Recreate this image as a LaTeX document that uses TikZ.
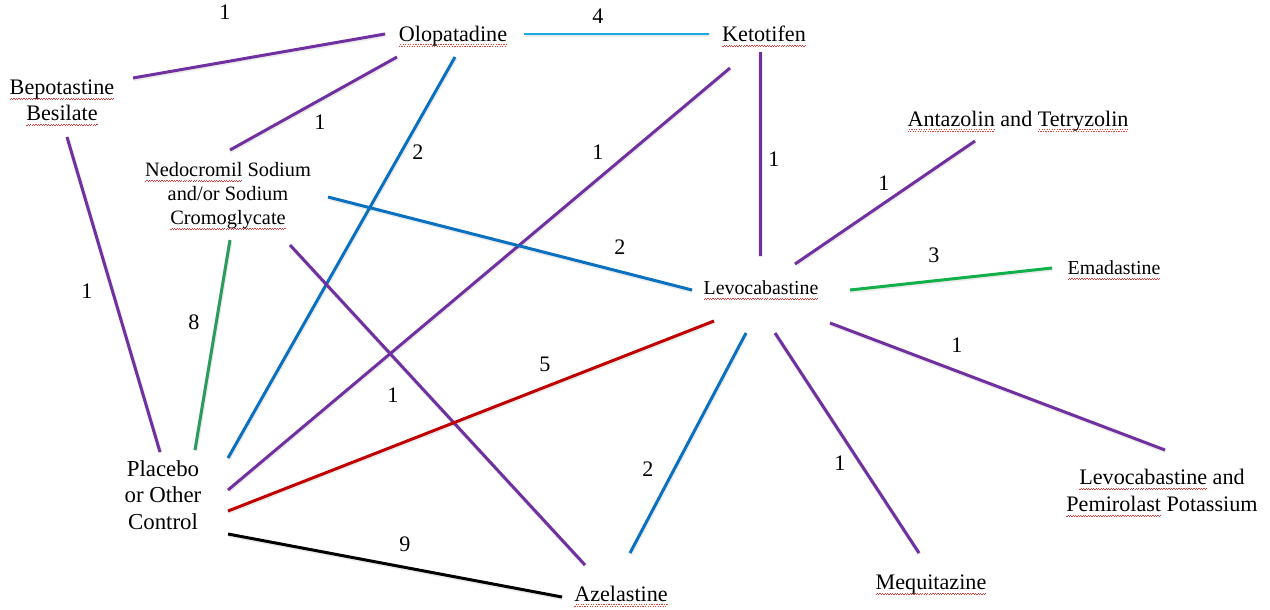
\documentclass[tikz,border=0pt]{standalone}
\usepackage{fontspec}
\setmainfont{Liberation Serif}
\newfontfamily\tnr{Liberation Serif}
\definecolor{cpurple}{HTML}{7030A0}
\definecolor{clblue}{HTML}{1BA9E3}
\definecolor{cdblue}{HTML}{0A70C0}
\definecolor{ctgreen}{HTML}{2E9A5E}
\definecolor{cbgreen}{HTML}{12B04A}
\definecolor{cdred}{HTML}{C00000}
\definecolor{cwave}{HTML}{E83A3A}
\newcommand\sq[1]{\setbox0\hbox{#1}\rlap{\textcolor{cwave}{\hbox to \wd0{\xleaders\hbox{\rule[-2.9pt]{0.7pt}{0.4pt}\rule[-2.3pt]{0.7pt}{0.4pt}}\hfill}}}\box0\relax}
\tikzset{
  drug/.style={inner sep=0pt, align=center, font=\tnr\fontsize{12.6}{15}\selectfont},
  drugsm/.style={inner sep=0pt, align=center, font=\tnr\fontsize{11.3}{13.6}\selectfont},
  num/.style={inner sep=0pt, font=\tnr\fontsize{12.6}{15}\selectfont},
  edge/.style={line width=1.7pt, line cap=butt,
    preaction={draw=black, opacity=0.08, line width=2.4pt, transform canvas={shift={(0.3pt,-0.6pt)}}}},
  purp/.style={edge, draw=cpurple},
  lblue/.style={edge, draw=clblue},
  dblue/.style={edge, draw=cdblue},
  tgreen/.style={edge, draw=ctgreen},
  bgreen/.style={edge, draw=cbgreen},
  dred/.style={edge, draw=cdred},
  blk/.style={edge, draw=black}
}
\begin{document}
\begin{tikzpicture}[x=0.02cm,y=-0.02cm]
\useasboundingbox (0,0) rectangle (1270,609);
% nodes
\node[drug] (olo) at (453,36) {\sq{Olopatadine}};
\node[drug] (ket) at (764,36) {\sq{Ketotifen}};
\node[drug] (bep) at (62,103) {\sq{Bepotastine}\\\sq{Besilate}};
\node[drugsm, font=\tnr\fontsize{11.6}{13.6}\selectfont] (ned) at (228,196) {\sq{Nedocromil} Sodium\\and/or Sodium\\\sq{Cromoglycate}};
\node[drug] (ant) at (1018,121) {\sq{Antazolin} and \sq{Tetryzolin}};
\node[drugsm] (lev) at (761,290) {\sq{Levocabastine}};
\node[drugsm] (ema) at (1114,270) {\sq{Emadastine}};
\node[drug, font=\tnr\fontsize{13}{15}\selectfont] (pla) at (163,495) {Placebo\\or Other\\Control};
\node[drug] (aze) at (621,596) {\sq{Azelastine}};
\node[drug] (meq) at (931,585) {\sq{Mequitazine}};
\node[drug] (lpp) at (1162,493) {\sq{Levocabastine} and\\\sq{Pemirolast} Potassium};
% connector ends
\coordinate (bep-olo) at (133,78);  \coordinate (olo-bep) at (385,34);
\coordinate (olo-ned) at (397,57);  \coordinate (ned-olo) at (230,150);
\coordinate (olo-ket) at (524,34);  \coordinate (ket-olo) at (709,34);
\coordinate (olo-pla) at (455,57);  \coordinate (pla-olo) at (228,458);
\coordinate (ket-pla) at (730,68);  \coordinate (pla-ket) at (228,490);
\coordinate (ket-lev) at (760,52);  \coordinate (lev-ket) at (760,256);
\coordinate (ned-lev) at (328,197); \coordinate (lev-ned) at (692,290);
\coordinate (ned-pla) at (230,240); \coordinate (pla-ned) at (195,450);
\coordinate (ned-aze) at (290,245); \coordinate (aze-ned) at (585,565);
\coordinate (bep-pla) at (67,137);  \coordinate (pla-bep) at (160,452);
\coordinate (ant-lev) at (975,141); \coordinate (lev-ant) at (795,264);
\coordinate (lev-ema) at (850,290); \coordinate (ema-lev) at (1052,268);
\coordinate (lev-pla) at (714,321); \coordinate (pla-lev) at (228,511);
\coordinate (lev-aze) at (746,333); \coordinate (aze-lev) at (630,553);
\coordinate (lev-meq) at (775,333); \coordinate (meq-lev) at (919,553);
\coordinate (lev-lpp) at (830,323); \coordinate (lpp-lev) at (1165,450);
\coordinate (pla-aze) at (228,534); \coordinate (aze-pla) at (562,597);
% connectors
\draw[purp]   (bep-olo) -- (olo-bep);
\draw[purp]   (olo-ned) -- (ned-olo);
\draw[lblue]  (olo-ket) -- (ket-olo);
\draw[dblue]  (olo-pla) -- (pla-olo);
\draw[purp]   (ket-pla) -- (pla-ket);
\draw[purp]   (ket-lev) -- (lev-ket);
\draw[dblue]  (ned-lev) -- (lev-ned);
\draw[tgreen] (ned-pla) -- (pla-ned);
\draw[purp]   (ned-aze) -- (aze-ned);
\draw[purp]   (bep-pla) -- (pla-bep);
\draw[purp]   (ant-lev) -- (lev-ant);
\draw[bgreen] (lev-ema) -- (ema-lev);
\draw[dred]   (lev-pla) -- (pla-lev);
\draw[dblue]  (lev-aze) -- (aze-lev);
\draw[purp]   (lev-meq) -- (meq-lev);
\draw[purp]   (lev-lpp) -- (lpp-lev);
\draw[blk]    (pla-aze) -- (aze-pla);
% labels
\node[num] (n1)  at (225,12)  {1};
\node[num] (n2)  at (320,122) {1};
\node[num] (n3)  at (598,16)  {4};
\node[num] (n4)  at (418,152) {2};
\node[num] (n5)  at (598,152) {1};
\node[num] (n6)  at (774,159) {1};
\node[num] (n7)  at (620,247) {2};
\node[num] (n8)  at (194,322) {8};
\node[num] (n9)  at (393,395) {1};
\node[num] (n10) at (87,291)  {1};
\node[num] (n11) at (884,183) {1};
\node[num] (n12) at (934,255) {3};
\node[num] (n13) at (545,364) {5};
\node[num] (n14) at (648,469) {2};
\node[num] (n15) at (840,463) {1};
\node[num] (n16) at (957,345) {1};
\node[num] (n17) at (405,544) {9};
\end{tikzpicture}
\end{document}
